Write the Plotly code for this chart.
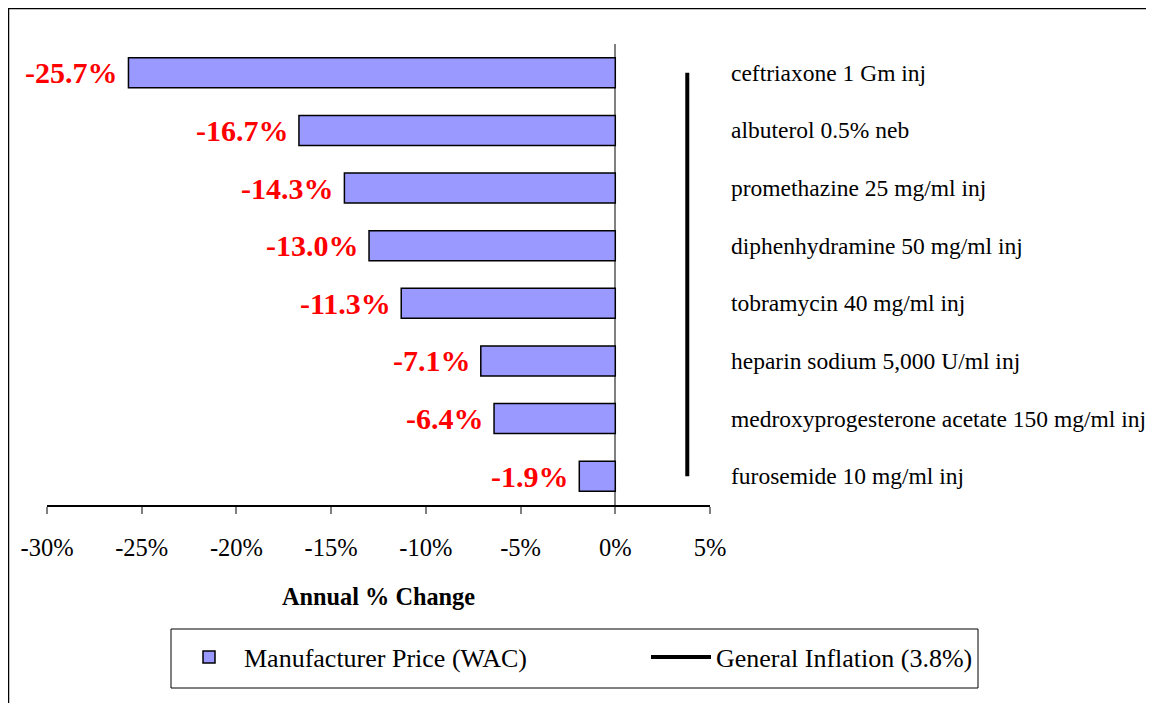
import plotly.graph_objects as go

drugs = [
    "ceftriaxone 1 Gm inj",
    "albuterol 0.5% neb",
    "promethazine 25 mg/ml inj",
    "diphenhydramine 50 mg/ml inj",
    "tobramycin 40 mg/ml inj",
    "heparin sodium 5,000 U/ml inj",
    "medroxyprogesterone acetate 150 mg/ml inj",
    "furosemide 10 mg/ml inj",
]
wac_change = [-25.7, -16.7, -14.3, -13.0, -11.3, -7.1, -6.4, -1.9]
inflation = 3.8
tick_vals = [-30, -25, -20, -15, -10, -5, 0, 5]
tick_text = ["-30%", "-25%", "-20%", "-15%", "-10%", "-5%", "0%", "5%"]

FONT = "Liberation Serif, Times New Roman, serif"

# page body has an 8px margin; plot area wanted at viewport x 47..710, y 44..505
PX0, PW, PY0, PH = 47, 663, 505, 461


def px(vx):
    return (vx - PX0) / PW


def py(vy):
    return (PY0 - vy) / PH


fig = go.Figure()
fig.add_trace(go.Bar(
    y=drugs, x=wac_change, orientation="h",
    name="Manufacturer Price (WAC)",
    marker=dict(color="#9999FF", line=dict(color="#000000", width=1.5)),
    width=0.52,
    legend="legend",
))
fig.add_trace(go.Scatter(
    y=[drugs[0], drugs[-1]], x=[inflation, inflation], mode="lines",
    name="General Inflation (3.8%)",
    line=dict(color="#000000", width=4),
    legend="legend2",
))

annotations = []
for d, v in zip(drugs, wac_change):
    annotations.append(dict(
        x=v, y=d, xref="x", yref="y", text=f"{v:.1f}%", showarrow=False,
        xanchor="right", yanchor="middle", xshift=-8,
        font=dict(family=FONT, size=30, color="#FF0000", weight="bold"),
    ))
    annotations.append(dict(
        x=px(729), y=d, xref="paper", yref="y", text=d, showarrow=False,
        xanchor="left", yanchor="middle",
        font=dict(family=FONT, size=23.5, color="#000000"),
    ))

shapes = [
    # outer chart border
    dict(type="rect", xref="paper", yref="paper",
         x0=px(8.5), x1=px(1170), y0=py(720), y1=py(8.5),
         line=dict(color="#000000", width=1.5), layer="below"),
    # legend frame
    dict(type="rect", xref="paper", yref="paper",
         x0=px(171), x1=px(978), y0=py(688), y1=py(629),
         line=dict(color="#000000", width=1), layer="below"),
]

legend_common = dict(
    orientation="h", yanchor="middle", y=py(657), xanchor="left",
    font=dict(family=FONT, size=26, color="#000000"),
    bgcolor="rgba(0,0,0,0)", borderwidth=0, itemwidth=60,
)

fig.update_layout(
    width=1146, height=695,
    margin=dict(l=39, r=444, t=36, b=198),
    paper_bgcolor="#FFFFFF", plot_bgcolor="#FFFFFF",
    font=dict(family=FONT, size=23, color="#000000"),
    showlegend=True,
    legend=dict(x=px(174), **legend_common),
    legend2=dict(x=px(646), **legend_common),
    annotations=annotations,
    shapes=shapes,
)
fig.update_xaxes(
    range=[-30, 5], tickvals=tick_vals, ticktext=tick_text,
    showgrid=False, zeroline=True, zerolinecolor="#808080", zerolinewidth=2,
    showline=True, linecolor="#000000", linewidth=1.5,
    ticks="outside", ticklen=7, tickcolor="#808080", tickwidth=1.5,
    ticklabelstandoff=13,
    tickfont=dict(family=FONT, size=24.5),
    title=dict(text="Annual % Change", standoff=28,
               font=dict(family=FONT, size=24.3, weight="bold")),
)
fig.update_yaxes(
    type="category", categoryorder="array", categoryarray=drugs,
    range=[7.5, -0.5], showticklabels=False, showgrid=False,
    zeroline=False, showline=False, ticks="",
)

fig.write_html("out.html")
